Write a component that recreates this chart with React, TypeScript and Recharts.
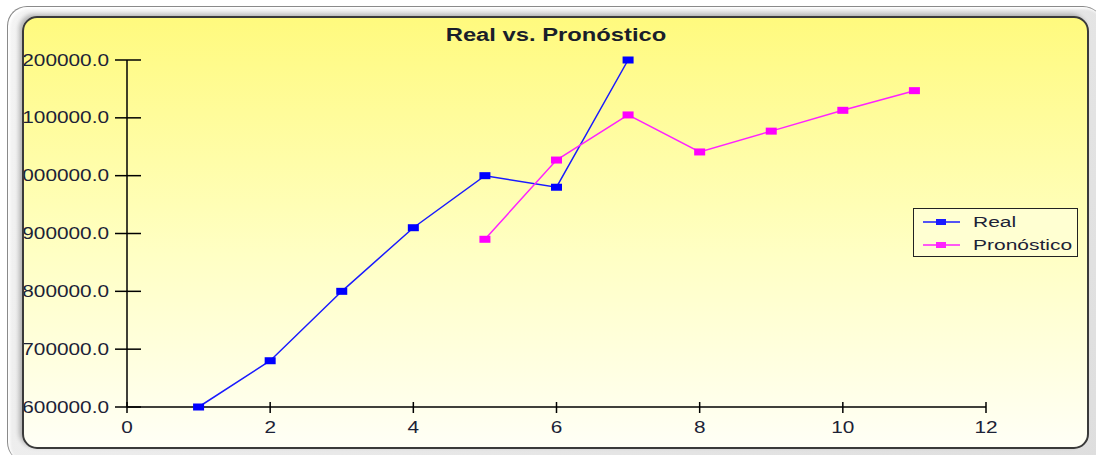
import React from "react";
import { LineChart, Line, XAxis, YAxis, Legend } from "recharts";

const xValues = [1, 2, 3, 4, 5, 6, 7, 8, 9, 10, 11];
const realValues: (number | null)[] = [600000, 680000, 800000, 910000, 1000000, 980000, 1200000, null, null, null, null];
const pronValues: (number | null)[] = [null, null, null, null, 890000, 1027000, 1105000, 1041000, 1077000, 1113000, 1147000];
const seriesNames = ["Real", "Pronóstico"];
const xTicks = [0, 2, 4, 6, 8, 10, 12];
const yTicks = [600000, 700000, 800000, 900000, 1000000, 1100000, 1200000];

const data = xValues.map((x, i) => ({ x, real: realValues[i], pron: pronValues[i] }));

const FONT = "'Liberation Sans', Arial, sans-serif";
const TXT = "#1c2236";
const SX = 1.3;

const YTick = (props: any) => {
  const { x, y, payload } = props;
  return (
    <g>
      <line x1={x - 12} x2={x + 14} y1={y} y2={y} stroke="#000" strokeWidth={1.5} />
      <text
        transform={`translate(${x - 18},${y}) scale(${SX},1)`}
        textAnchor="end"
        dominantBaseline="central"
        fontSize={16}
        fontFamily={FONT}
        fill={TXT}
      >
        {Number(payload.value).toFixed(1)}
      </text>
    </g>
  );
};

const XTick = (props: any) => {
  const { x, y, payload } = props;
  return (
    <g>
      <line x1={x} x2={x} y1={y - 5} y2={y + 6} stroke="#000" strokeWidth={1.5} />
      <text
        transform={`translate(${x},${y + 20}) scale(${SX},1)`}
        textAnchor="middle"
        dominantBaseline="central"
        fontSize={16}
        fontFamily={FONT}
        fill={TXT}
      >
        {payload.value}
      </text>
    </g>
  );
};

const makeDot = (color: string) => (props: any) => {
  const { cx, cy, value, index } = props;
  if (value == null || cy == null || isNaN(cy)) return <g key={`e${index}`} />;
  return <rect key={`d${index}`} x={cx - 5.5} y={cy - 3.5} width={11} height={7} fill={color} />;
};

const renderLegend = (props: any) => {
  const payload = [...(props.payload || [])].sort(
    (a: any, b: any) => seriesNames.indexOf(a.value) - seriesNames.indexOf(b.value)
  );
  return (
    <div
      style={{
        width: 163,
        height: 47,
        border: "1px solid #222",
        background: "#FFFFD2",
      }}
    >
      <svg width={163} height={47} style={{ display: "block" }}>
        {payload.map((p: any, i: number) => {
          const cy = 13 + i * 23;
          return (
            <g key={i}>
              <line x1={9} x2={46} y1={cy} y2={cy} stroke={p.color} strokeWidth={1.5} />
              <rect x={22} y={cy - 3} width={10} height={6} fill={p.color} />
              <text
                transform={`translate(59,${cy}) scale(1.4,1)`}
                dominantBaseline="central"
                fontSize={15}
                fontFamily={FONT}
                fill={TXT}
              >
                {p.value}
              </text>
            </g>
          );
        })}
      </svg>
    </div>
  );
};

export default function App() {
  return (
    <div style={{ position: "absolute", left: 0, top: 0, width: 1096, height: 455, background: "#fff", overflow: "hidden" }}>
      <div
        style={{
          position: "absolute",
          left: 7,
          top: 6,
          width: 1095,
          height: 455,
          borderRadius: 20,
          borderTop: "1px solid #8a8a8a",
          borderLeft: "1px solid #8a8a8a",
          background: "linear-gradient(135deg, #f4f4f4 0%, #dedede 100%)",
          boxShadow: "inset 2px 2px 3px #ffffff",
        }}
      />
      <div
        style={{
          position: "absolute",
          left: 22,
          top: 16,
          width: 1063,
          height: 429,
          border: "2px solid #3a3a3a",
          borderRadius: 15,
          background: "linear-gradient(to bottom, #FFFA7E 0%, #FFFFC4 55%, #FFFFF6 100%)",
          boxShadow: "-3px -2px 4px rgba(0,0,0,0.25)",
          overflow: "hidden",
        }}
      />
      <div
        style={{
          position: "absolute",
          left: 356,
          top: 24,
          width: 400,
          textAlign: "center",
          fontFamily: FONT,
          fontWeight: "bold",
          fontSize: 18,
          lineHeight: "22px",
          color: "#1a1e2a",
          transform: "scaleX(1.32)",
        }}
      >
        Real vs. Pronóstico
      </div>
      <div style={{ position: "absolute", left: 24, top: 18 }}>
        <LineChart width={1063} height={430} data={data} margin={{ top: 42, right: 101, bottom: 11, left: 0 }}>
          <XAxis
            dataKey="x"
            type="number"
            domain={[0, 12]}
            ticks={xTicks}
            tickSize={0}
            tickMargin={0}
            tickLine={false}
            axisLine={{ stroke: "#000", strokeWidth: 1.5 }}
            tick={<XTick />}
            height={30}
            interval={0}
          />
          <YAxis
            type="number"
            domain={[600000, 1200000]}
            ticks={yTicks}
            tickSize={0}
            tickMargin={0}
            tickLine={false}
            axisLine={{ stroke: "#000", strokeWidth: 1.5 }}
            tick={<YTick />}
            width={103}
            interval={0}
          />
          <Legend
            layout="vertical"
            align="center"
            verticalAlign="middle"
            content={renderLegend}
            wrapperStyle={{ left: 889, top: 190, width: 165, height: 49 }}
          />
          <Line
            type="linear"
            dataKey="real"
            name={seriesNames[0]}
            stroke="#1a1aff"
            strokeWidth={1.5}
            dot={makeDot("#0000ff")}
            activeDot={false}
            isAnimationActive={false}
            connectNulls={false}
          />
          <Line
            type="linear"
            dataKey="pron"
            name={seriesNames[1]}
            stroke="#ff22ff"
            strokeWidth={1.5}
            dot={makeDot("#ff00ff")}
            activeDot={false}
            isAnimationActive={false}
            connectNulls={false}
          />
        </LineChart>
      </div>
    </div>
  );
}
